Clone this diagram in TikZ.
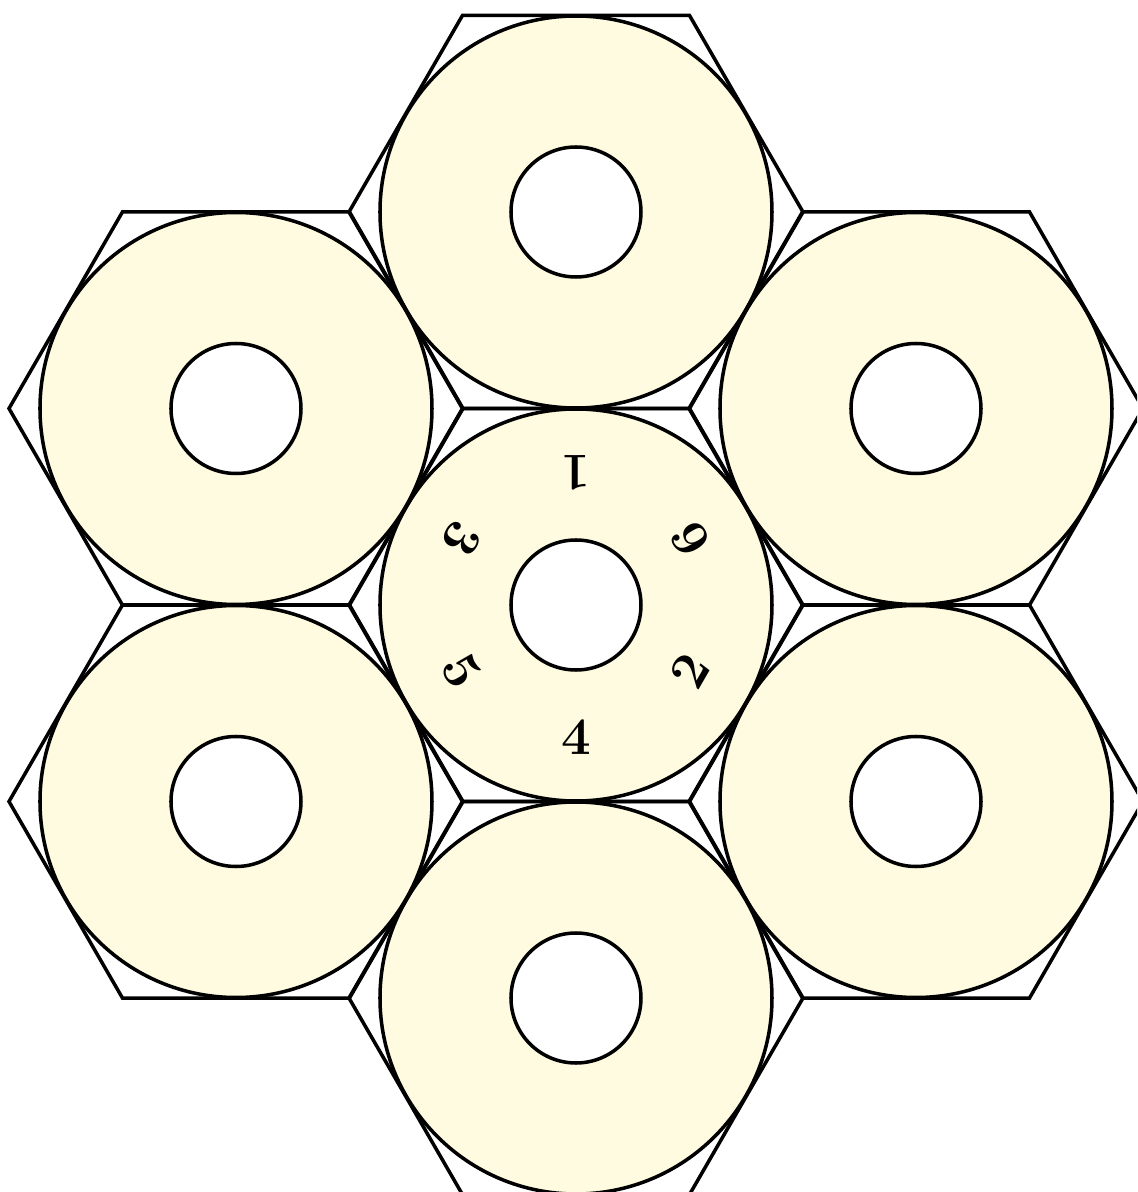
\documentclass[tikz,border=0pt]{standalone}
\usepackage{tikz}
\definecolor{cellyellow}{RGB}{255,251,224}
\usetikzlibrary{calc}

\tikzset{
  cellhex/.style={draw=black},
  cellring/.style={draw=black,fill=cellyellow},
  cellhole/.style={draw=black,fill=white},
  facenum/.style={font=\fontsize{15}{18}\selectfont\bfseries,inner sep=1pt}
}

\begin{document}
\begin{tikzpicture}[line width=1pt]
  % Canvas
  \useasboundingbox (-5.76,-5.87) rectangle (5.61,6.05);
  \clip (-5.76,-5.87) rectangle (5.61,6.05);

  % Cell centres
  \coordinate (c0) at (0,0);
  \coordinate (c1) at (0,3.93);
  \coordinate (c2) at (3.40,1.965);
  \coordinate (c3) at (3.40,-1.965);
  \coordinate (c4) at (0,-3.93);
  \coordinate (c5) at (-3.40,-1.965);
  \coordinate (c6) at (-3.40,1.965);

  % Cells: ring, hole, hexagon
  \foreach \c in {c0,c1,c2,c3,c4,c5,c6}{
    \begin{scope}[shift={(\c)}]
      \draw[cellring] (0,0) circle (1.96);
      \draw[cellhole] (0,0) circle (0.65);
      \draw[cellhex] (0:2.27) -- (60:2.27) -- (120:2.27) -- (180:2.27)
        -- (240:2.27) -- (300:2.27) -- cycle;
    \end{scope}
  }

  % Face numbers round the centre cell
  \foreach \a/\d in {90/1,30/6,-30/2,-90/4,-150/5,150/3}
    \node[facenum,rotate=\a+90] (n\d) at ($(c0)+(\a:1.32)$) {\d};
\end{tikzpicture}
\end{document}
